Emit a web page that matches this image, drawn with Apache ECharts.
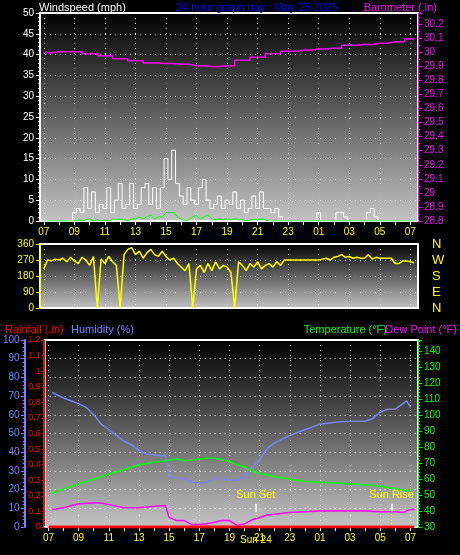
<!DOCTYPE html>
<html>
<head>
<meta charset="utf-8">
<script src="https://cdn.jsdelivr.net/npm/echarts@6/dist/echarts.min.js"></script>
<style>
  html, body { margin: 0; padding: 0; background: #000; }
  #chart { width: 460px; height: 555px; }
</style>
</head>
<body>
<div id="chart"></div>
<script>
// time categories: every 15 min from 06:45 (May 25) to 07:30 (May 26)
const startHour = 6.75
const categories = []
for (let i = 0; i < 100; i++) categories.push(i)

// wind, 15 min samples from 07:00
const windGust = [
    0,0,0,0, 0,0,0,0, 2,3,2,8, 3,7,2,4, 3,8,2,5, 9,3,4,9, 3,4,8,9, 4,8,3,8,
    15,10,17,9, 6,4,8,5, 4,8,10,5, 3,4,6,3, 5,4,7,3, 5,2,3,6, 3,7,3,3, 2,3,1,0,
    0,0,0,0, 0,0,0,0, 2,0,0,0, 0,2,2,1, 0,0,0,0, 0,2,3,1, 0,0,0,0, 0,0,0,0, 0,0
]
const windAvg = [
    0,0,0,0, 0,0,0,0, 0,0.3,0,0.3, 0.5,0,0.3,0, 0.3,0,0.5,0.3, 0.5,0.3,0,0.5,
    0.5,1,0.5,1, 1.5,0.5,1,1, 2,2,2,1, 0.5,0,0.3,1, 1.3,0.5,1,1.5, 0.5,0.3,0.5,0.3,
    0.5,0.3,0.5,0.3, 0.3,0,0.3,0.3, 0.3,0.5,0.3,0, 0,0,0,0,
    0,0,0,0, 0,0,0,0, 0,0,0,0, 0,0,0,0, 0,0,0,0, 0,0,0,0, 0,0,0,0, 0,0,0,0, 0,0
]
const windDir = [
    220,270,265,275, 270,280,260,285, 265,250,285,270, 240,290,0,275, 250,290,260,240,
    0,300,330,340, 300,320,280,310, 330,300,290,320, 290,270,280,250, 230,210,250,0,
    220,240,200,250, 210,260,220,240, 230,200,0,260, 240,210,250,230, 260,220,240,250,
    230,260,240,270, 270,270,270,270, 270,270,270,270, 270,275,280,270, 285,290,300,285,
    290,280,285,280, 280,300,275,285, 280,280,280,280, 250,250,265,265, 260,255
]

// hours since 00:00 May 25
const baroTimes = [7, 8, 9, 10, 11, 12, 13, 14, 15, 16, 17, 18, 19, 20, 21, 22, 23, 24, 25, 26, 27, 28, 29, 30, 31.2]
const baroValues = [29.998, 30.005, 30.005, 29.99, 29.975, 29.955, 29.94, 29.925, 29.92, 29.915, 29.905, 29.9, 29.905,
    29.943, 29.965, 29.99, 30.007, 30.017, 30.024, 30.03, 30.05, 30.055, 30.065, 30.075, 30.095]

const humTimes = [7.25, 8, 9, 9.5, 10, 10.5, 11, 11.5, 12, 12.5, 13, 13.5, 14, 14.75, 15, 15.5, 16, 16.5, 17, 17.5, 18, 18.5, 19, 19.5,
    20, 20.5, 21, 21.5, 22, 22.5, 23, 24, 25, 26, 27, 28, 28.5, 29, 29.5, 30, 30.5, 30.75, 31.1]
const humValues = [72, 69, 66, 64, 60, 55, 52, 49, 46, 44, 41, 39, 38.5, 38, 27, 26, 26, 24, 23.5, 24, 26, 26, 25, 25,
    27, 31.5, 36, 42, 45, 47, 49, 52, 55, 56, 56.5, 56.5, 58, 61.5, 63, 63, 66, 67.5, 64]

const tempTimes = [7.25, 8, 9, 10, 11, 12, 13, 14, 14.75, 15.5, 16, 16.5, 17, 17.5, 18, 18.5, 19, 19.5, 20, 20.5, 21, 21.5,
    22, 23, 24, 25, 26, 27, 28, 29, 30, 30.5, 30.75, 31.1]
const tempValues = [51, 54, 57, 60, 63, 66, 69, 70.5, 71.5, 72.5, 71.5, 72, 72.5, 73, 73, 72, 71, 69, 67.5, 65, 63.5, 62.5,
    61.5, 60, 58.5, 58, 57.5, 57, 56.5, 55.5, 54, 53, 52.5, 54]

const dewTimes = [7.25, 8, 9, 10, 10.5, 11, 12, 13, 14, 14.75, 15, 15.5, 16, 16.5, 17, 17.5, 18, 18.5, 19, 19.5, 20, 20.5,
    21, 21.5, 22, 23, 24, 25, 26, 27, 28, 29, 30, 30.5, 31, 31.2]
const dewValues = [41, 42, 44.5, 45, 45, 44, 42, 42, 43, 43.5, 36, 34, 34, 31.5, 31.5, 32, 33, 34, 34, 31, 32, 34.5,
    36, 37.5, 38, 39, 39.5, 40, 40, 40, 40, 39.5, 39.5, 39, 41, 41]

const rainTimes = [6.9, 31.2]
const rainValues = [0, 0]

const sunSet = 20.75
const sunRise = 29.8

const toIdx = t => (t - startHour) * 4
const pairs = (ts, vs) => ts.map((t, i) => [toIdx(t), vs[i]])
const fromSeven = arr => [null].concat(arr)
const hourOf = i => startHour + i / 4
const isOddHour = i => { const h = hourOf(i); return h % 1 === 0 && h % 2 === 1 }
const isHour = i => hourOf(i) % 1 === 0
const hourLabel = v => { const h = hourOf(+v) % 24; return (h < 10 ? '0' : '') + h }

const bg = new echarts.graphic.LinearGradient(0, 0, 0, 1, [
    { offset: 0, color: '#000' }, { offset: 1, color: '#c4c4c4' }
])
const dotted = { lineStyle: { color: '#fff', type: [1, 4], width: 1 } }
const font = '"Liberation Sans", sans-serif'
const titleStyle = color => ({ color, fontSize: 11, fontWeight: 'normal', fontFamily: font })

function xAxis(gridIndex, labels) {
    return {
        type: 'category', gridIndex, data: categories, boundaryGap: false,
        axisLine: { lineStyle: { color: '#fff', width: 2 } },
        axisTick: { show: labels, interval: (i) => isHour(i), length: 4, lineStyle: { color: '#fff' } },
        axisLabel: { show: labels, interval: (i) => isOddHour(i), formatter: hourLabel, color: '#ff0', fontSize: 10, margin: 6 },
        splitLine: { show: true, interval: (i) => isOddHour(i), ...dotted }
    }
}

const chart = echarts.init(document.getElementById('chart'))
chart.setOption({
    backgroundColor: '#000',
    animation: false,
    textStyle: { fontFamily: font },
    title: [
        { text: 'Windspeed (mph)', left: 34, top: -3, textStyle: titleStyle('#fff') },
        { text: '24 hour graph day : May 25 2025', left: 171, top: -3, textStyle: titleStyle('#0000ff') },
        { text: 'Barometer (.in)', right: 18, top: -3, textStyle: titleStyle('#ff00ff') },
        { text: 'Rainfall (.in)', left: 0, top: 319, textStyle: titleStyle('#ff0000') },
        { text: 'Humidity (%)', left: 66, top: 319, textStyle: titleStyle('#8080ff') },
        { text: 'Temperature (°F)', right: 68, top: 319, textStyle: titleStyle('#00ff00') },
        { text: 'Dew Point (°F)', right: -2, top: 319, textStyle: titleStyle('#ff00ff') }
    ],
    grid: [
        { left: 40, right: 42, top: 13, bottom: 334, show: true, backgroundColor: bg, borderColor: '#fff', borderWidth: 2 },
        { left: 40, right: 42, top: 244, bottom: 247, show: true, backgroundColor: bg, borderColor: '#fff', borderWidth: 2 },
        { left: 40, right: 42, top: 340, bottom: 28, show: true, backgroundColor: bg, borderColor: '#fff', borderWidth: 2 }
    ],
    xAxis: [xAxis(0, true), xAxis(1, false), xAxis(2, true)],
    yAxis: [
        {
            gridIndex: 0, min: 0, max: 50, interval: 5, position: 'left',
            axisLine: { show: true, lineStyle: { color: '#fff' } },
            axisTick: { show: true, length: 4 }, minorTick: { show: true, splitNumber: 5, length: 2 },
            axisLabel: { color: '#fff', fontSize: 10, margin: 6 },
            splitLine: { show: true, ...dotted }
        },
        {
            gridIndex: 0, min: 28.8, max: 30.28, interval: 0.1, position: 'right',
            axisLine: { show: true, lineStyle: { color: '#ff00ff' } },
            axisTick: { show: true, length: 4 }, minorTick: { show: true, splitNumber: 2, length: 2 },
            axisLabel: { color: '#ff00ff', fontSize: 10, margin: 6, showMaxLabel: false,
                formatter: v => +v.toFixed(1) + '' },
            splitLine: { show: false }
        },
        {
            gridIndex: 1, min: 0, max: 360, interval: 90, position: 'left',
            axisLine: { show: true, lineStyle: { color: '#ff0' } },
            axisTick: { show: true, length: 4 },
            axisLabel: { color: '#ff0', fontSize: 10, margin: 6 },
            splitLine: { show: true, ...dotted }
        },
        {
            gridIndex: 1, min: 0, max: 360, interval: 90, position: 'right',
            axisLine: { show: false }, axisTick: { show: false },
            axisLabel: { color: '#ff0', fontSize: 13, margin: 14,
                formatter: v => ({ 0: 'N', 90: 'E', 180: 'S', 270: 'W', 360: 'N' })[v] },
            splitLine: { show: false }
        },
        {
            gridIndex: 2, min: 0, max: 100, interval: 10, position: 'left', offset: 20,
            axisLine: { show: true, lineStyle: { color: '#8080ff', width: 2 } },
            axisTick: { show: true, length: 4 }, minorTick: { show: true, splitNumber: 5, length: 2 },
            axisLabel: { color: '#8080ff', fontSize: 10, margin: 5 },
            splitLine: { show: true, ...dotted }
        },
        {
            gridIndex: 2, min: 0, max: 1.2, interval: 0.1, position: 'left',
            axisLine: { show: true, lineStyle: { color: '#ff0000' } },
            axisTick: { show: true, length: 3 }, minorTick: { show: true, splitNumber: 4, length: 2 },
            axisLabel: { color: '#ff0000', fontSize: 9, margin: 4, formatter: v => +v.toFixed(1) + '' },
            splitLine: { show: false }
        },
        {
            gridIndex: 2, min: 30, max: 147, interval: 10, position: 'right',
            axisLine: { show: true, lineStyle: { color: '#00ff00' } },
            axisTick: { show: true, length: 4 }, minorTick: { show: true, splitNumber: 5, length: 2 },
            axisLabel: { color: '#00ff00', fontSize: 10, margin: 6, showMaxLabel: false },
            splitLine: { show: false }
        }
    ],
    series: [
        {
            name: 'Gust', type: 'line', xAxisIndex: 0, yAxisIndex: 0, data: fromSeven(windGust),
            symbol: 'none', step: 'middle', lineStyle: { color: '#fff', width: 1 }
        },
        {
            name: 'Wind', type: 'line', xAxisIndex: 0, yAxisIndex: 0, data: fromSeven(windAvg),
            symbol: 'none', lineStyle: { color: '#00ff00', width: 1 }
        },
        {
            name: 'Barometer', type: 'line', xAxisIndex: 0, yAxisIndex: 1, data: pairs(baroTimes, baroValues),
            symbol: 'none', step: 'middle', lineStyle: { color: '#ff00ff', width: 1.5 }
        },
        {
            name: 'Direction', type: 'line', xAxisIndex: 1, yAxisIndex: 2, data: fromSeven(windDir),
            symbol: 'none', lineStyle: { color: '#ff0', width: 1.5 }
        },
        {
            name: 'Rainfall', type: 'line', xAxisIndex: 2, yAxisIndex: 5, data: pairs(rainTimes, rainValues),
            symbol: 'none', lineStyle: { color: '#ff0000', width: 3 }, z: 5
        },
        {
            name: 'Humidity', type: 'line', xAxisIndex: 2, yAxisIndex: 4, data: pairs(humTimes, humValues),
            symbol: 'none', lineStyle: { color: '#8080ff', width: 1.5 },
            markLine: {
                symbol: 'none', silent: true, animation: false,
                data: [
                    [{ coord: [toIdx(sunSet), 0], lineStyle: { color: '#ff0', type: [1, 2], width: 1 },
                        label: { show: true, position: 'start', formatter: 'Sun 24', color: '#ff0', fontSize: 10, distance: 8 } },
                     { coord: [toIdx(sunSet), 8] }],
                    [{ coord: [toIdx(sunSet), 8], lineStyle: { color: '#fff', type: 'solid', width: 1.5 },
                        label: { show: true, position: 'end', formatter: 'Sun Set', color: '#ff0', fontSize: 11, distance: 3 } },
                     { coord: [toIdx(sunSet), 12.5] }],
                    [{ coord: [toIdx(sunRise), 0], lineStyle: { color: '#ff0', type: [1, 2], width: 1 }, label: { show: false } },
                     { coord: [toIdx(sunRise), 8] }],
                    [{ coord: [toIdx(sunRise), 8], lineStyle: { color: '#fff', type: 'solid', width: 1.5 },
                        label: { show: true, position: 'end', formatter: 'Sun Rise', color: '#ff0', fontSize: 11, distance: 3 } },
                     { coord: [toIdx(sunRise), 12.5] }]
                ]
            }
        },
        {
            name: 'Temperature', type: 'line', xAxisIndex: 2, yAxisIndex: 6, data: pairs(tempTimes, tempValues),
            symbol: 'none', lineStyle: { color: '#00ff00', width: 1.5 }
        },
        {
            name: 'Dew Point', type: 'line', xAxisIndex: 2, yAxisIndex: 6, data: pairs(dewTimes, dewValues),
            symbol: 'none', lineStyle: { color: '#ff00ff', width: 1.5 }
        }
    ]
})
</script>
</body>
</html>
